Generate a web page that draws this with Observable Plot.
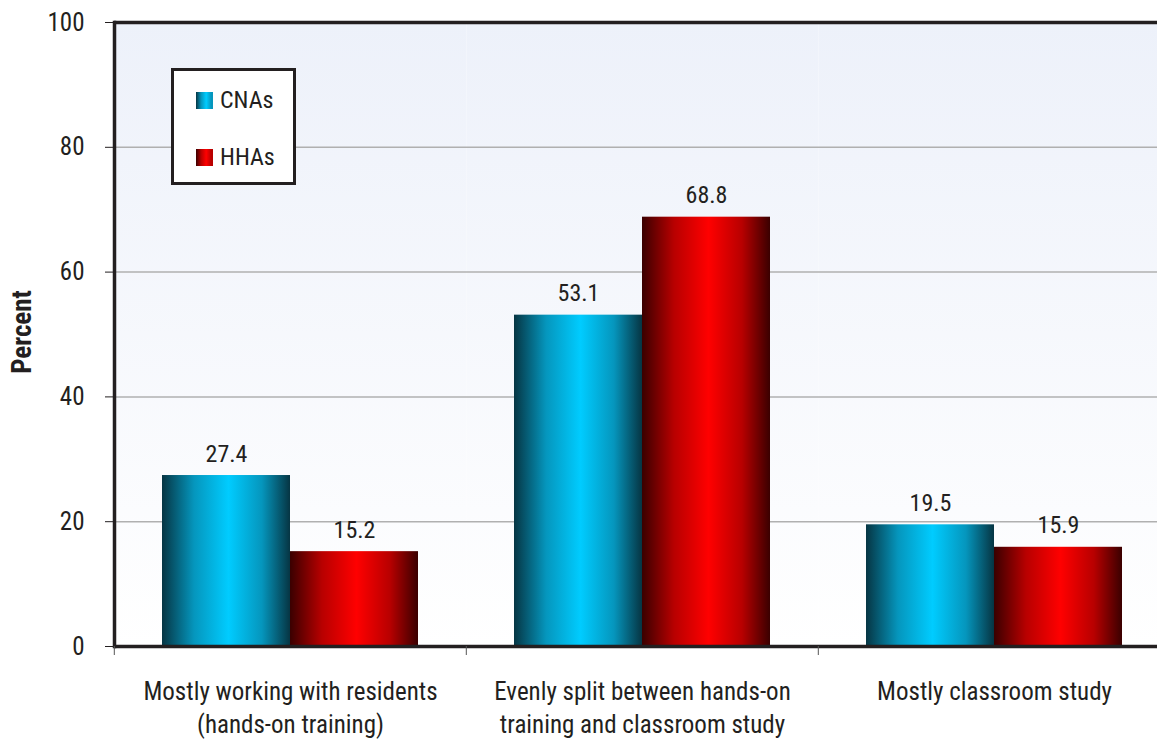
<!DOCTYPE html>
<html>
<head>
<meta charset="utf-8">
<script src="https://cdn.jsdelivr.net/npm/d3@7"></script>
<script src="https://cdn.jsdelivr.net/npm/@observablehq/plot@0.6"></script>
<style>
  html, body { margin: 0; padding: 0; background: #fff; overflow: hidden; }
  #wrap { position: relative; width: 1157px; height: 740px; font-family: "Roboto Condensed", "Open Sans Condensed", "Liberation Sans Narrow", "DejaVu Sans Condensed", sans-serif; color: #231f20; }
  #legend { position: absolute; left: 171px; top: 68px; width: 119px; height: 111px; border: 3px solid #231f20; background: #fff; }
  .li { position: absolute; left: 22px; font-size: 24px; display: flex; align-items: center; }
  .sw { width: 17px; height: 17px; margin-right: 7px; }
  #ylab { position: absolute; left: 22px; top: 332px; transform: translate(-50%, -50%) rotate(-90deg); font-weight: bold; font-size: 27px; white-space: nowrap; }
</style>
</head>
<body>
<div id="wrap"></div>
<script>
const categories = [
  "Mostly working with residents\n(hands-on training)",
  "Evenly split between hands-on\ntraining and classroom study",
  "Mostly classroom study"
];
const series = ["CNAs", "HHAs"];
const cnaValues = [27.4, 53.1, 19.5];
const hhaValues = [15.2, 68.8, 15.9];
const yTicks = [0, 20, 40, 60, 80, 100];

const data = [];
categories.forEach((c, i) => {
  data.push({category: c, series: "CNAs", value: cnaValues[i]});
  data.push({category: c, series: "HHAs", value: hhaValues[i]});
});

const ink = "#231f20";

const chart = Plot.plot({
  width: 1157,
  height: 740,
  marginLeft: 113,
  marginRight: 0,
  marginTop: 22,
  marginBottom: 94,
  style: {fontFamily: '"Roboto Condensed", "Open Sans Condensed", "Liberation Sans Narrow", "DejaVu Sans Condensed", sans-serif', fontSize: "24px", color: ink, background: "transparent", overflow: "visible"},
  fx: {domain: categories, range: [113, 1170], padding: 0, label: null},
  x: {domain: series, paddingInner: 0, paddingOuter: 0.37, axis: null},
  y: {domain: [0, 100], label: null},
  color: {domain: series, range: ["url(#gC)", "url(#gH)"]},
  marks: [
    Plot.frame({fill: "url(#bg)", stroke: null}),
    Plot.gridY([20, 40, 60, 80], {stroke: "#b0b0b0", strokeOpacity: 1, strokeWidth: 1.5}),
    Plot.barY(data, {fx: "category", x: "series", y: "value", fill: "series"}),
    Plot.text(data, {fx: "category", x: "series", y: "value", text: d => d.value.toFixed(1), lineAnchor: "bottom", dy: -14, fontSize: 24, fill: ink}),
    Plot.ruleY([100], {stroke: ink, strokeWidth: 3.5}),
    Plot.ruleY([0], {stroke: ink, strokeWidth: 3.5}),
    Plot.frame({anchor: "left", facetAnchor: "left", stroke: ink, strokeWidth: 3.5}),
    Plot.axisY({ticks: yTicks, tickSize: 9, tickPadding: 21, fontSize: 25, label: null, stroke: ink, fill: ink}),
    Plot.axisFx({anchor: "bottom", tickSize: 0, tickPadding: 30, lineHeight: 1.32, fontSize: 25, label: null, fill: ink}),
    Plot.axisFx({anchor: "bottom", tickSize: 9, tickFormat: () => "", label: null, dx: -176.2, stroke: "#555"})
  ]
});

const svg = d3.select(chart.tagName === "svg" ? chart : chart.querySelector("svg"));
const defs = svg.insert("defs", ":first-child");
const bg = defs.append("linearGradient").attr("id", "bg").attr("x1", 0).attr("y1", 0).attr("x2", 0).attr("y2", 1);
bg.append("stop").attr("offset", 0).attr("stop-color", "#edf1fa");
bg.append("stop").attr("offset", 1).attr("stop-color", "#ffffff");
function hgrad(id, edge, mid, peak) {
  const g = defs.append("linearGradient").attr("id", id).attr("x1", 0).attr("y1", 0).attr("x2", 1).attr("y2", 0);
  g.append("stop").attr("offset", 0).attr("stop-color", edge);
  g.append("stop").attr("offset", 0.25).attr("stop-color", mid);
  g.append("stop").attr("offset", 0.52).attr("stop-color", peak);
  g.append("stop").attr("offset", 0.78).attr("stop-color", mid);
  g.append("stop").attr("offset", 1).attr("stop-color", edge);
}
hgrad("gC", "#063543", "#0596bd", "#00ccff");
hgrad("gH", "#3a0000", "#b80000", "#ff0000");

const wrap = document.getElementById("wrap");
wrap.appendChild(chart);

const legend = document.createElement("div");
legend.id = "legend";
const swatchCss = {
  CNAs: "linear-gradient(to right, #063543, #0596bd 30%, #00ccff 60%, #0596bd 90%)",
  HHAs: "linear-gradient(to right, #3a0000, #b80000 30%, #ff0000 60%, #b80000 90%)"
};
series.forEach((s, i) => {
  const item = document.createElement("div");
  item.className = "li";
  item.style.top = (i === 0 ? 15 : 72) + "px";
  const sw = document.createElement("div");
  sw.className = "sw";
  sw.style.background = swatchCss[s];
  const t = document.createElement("span");
  t.textContent = s;
  item.appendChild(sw);
  item.appendChild(t);
  legend.appendChild(item);
});
wrap.appendChild(legend);

const ylab = document.createElement("div");
ylab.id = "ylab";
ylab.textContent = "Percent";
wrap.appendChild(ylab);
</script>
</body>
</html>
